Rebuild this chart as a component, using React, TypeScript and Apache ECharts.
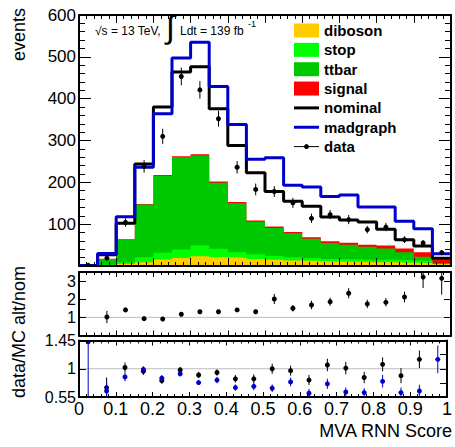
import React, { useEffect, useRef } from "react";
import * as echarts from "echarts";

// ---------- data ----------
const binEdges = [0, 0.05, 0.1, 0.15, 0.2, 0.25, 0.3, 0.35, 0.4, 0.45, 0.5, 0.55, 0.6, 0.65, 0.7, 0.75, 0.8, 0.85, 0.9, 0.95, 1];

const diboson = [0.3, 1.5, 5, 9, 15.5, 19, 23.5, 21, 20, 17, 15, 13, 12, 11, 10, 9, 9, 8, 7, 4];
const stop = [0.3, 1.5, 4, 12, 16, 20.5, 25.5, 20, 13, 11, 9, 8, 7, 6, 6, 6, 6, 6, 5.5, 1];
const ttbar = [0.6, 14, 54, 126, 184.5, 220.5, 215, 158, 117, 78, 67, 57, 46, 38, 35, 31, 27, 19, 9.5, 1.5];
const signal = [0.2, 0.5, 1, 1, 1.5, 2.5, 3, 3, 3, 3, 3.5, 3, 4, 4, 4.5, 5, 7, 9, 11, 9.5];
const nominal = [1, 27, 102, 244, 380, 464, 476, 376, 288, 223, 178, 155, 143, 117, 110, 105, 88, 63, 48, 18.5];
const madgraph = [1, 30, 118, 236, 364, 497, 535, 429, 338, 255, 259, 193, 189, 166, 170, 141, 141, 107, 89, 29];
const dataVals = [1.5, 19, 104, 238, 310, 453, 421, 352, 236, 183, 178, 151, 114, 123, 111, 87, 93, 63, 55, 32];
const dataErr = [1.5, 4.5, 10, 15, 18, 21, 21, 19, 15, 14, 13, 12, 11, 11, 11, 9, 10, 8, 7, 6];

const altNom = [null, 1.02, 1.41, 0.93, 0.91, 1.17, 1.31, 1.31, 1.41, 1.31, 2.01, 1.5, 1.68, 1.86, 2.33, 1.74, 1.83, 2.12, 3.22, 3.15];
const altNomErr = [null, 0.34, 0.13, 0.05, 0.05, 0.05, 0.05, 0.06, 0.08, 0.1, 0.28, 0.18, 0.23, 0.22, 0.28, 0.23, 0.23, 0.29, 0.6, 0.9];

const dataNom = [null, 0.7, 1.02, 0.96, 0.81, 0.98, 0.9, 0.94, 0.84, 0.84, 1.0, 0.97, 0.82, 1.06, 1.01, 0.86, 1.07, 0.89, 1.15, null];
const dataNomErr = [null, 0.16, 0.08, 0.06, 0.05, 0.05, 0.05, 0.05, 0.06, 0.07, 0.08, 0.08, 0.08, 0.1, 0.1, 0.09, 0.11, 0.12, 0.14, null];
const dataMad = [1.43, 0.645, 0.87, 0.99, 0.85, 0.92, 0.78, 0.82, 0.7, 0.72, 0.69, 0.79, 0.61, 0.76, 0.63, 0.62, 0.8, 0.62, 0.645, 1.15];
const dataMadErr = [0.9, 0.14, 0.07, 0.05, 0.05, 0.04, 0.04, 0.05, 0.05, 0.06, 0.06, 0.07, 0.07, 0.08, 0.07, 0.07, 0.1, 0.08, 0.1, 0.22];

const legendLabels = ["diboson", "stop", "ttbar", "signal", "nominal", "madgraph", "data"];

// ---------- styles ----------
const FONT = "'Liberation Sans', Arial, Helvetica, sans-serif";
const C = {
  diboson: "#ffcc00",
  stop: "#00ff00",
  ttbar: "#00c800",
  signal: "#ff0000",
  nominal: "#000000",
  madgraph: "#0000cc",
  data: "#000000",
};
const RATIO_OFFSET = 0.55; // bottom panel axis starts at 0.55

const centers = binEdges.slice(0, -1).map((e, i) => (e + binEdges[i + 1]) / 2);
const stepData = (vals: number[]) => [
  ...vals.map((v, i) => [binEdges[i], v]),
  [binEdges[binEdges.length - 1], vals[vals.length - 1]],
];
const cumulative = (...arrs: number[][]) => arrs[0].map((_, i) => arrs.reduce((s, a) => s + a[i], 0));

function mkX(gridIndex: number, position: string, showLabels: boolean, major: number, minor: number) {
  return {
    type: "value",
    gridIndex,
    position,
    min: 0,
    max: 1,
    interval: 0.1,
    z: 10,
    axisLine: { show: true, onZero: false, lineStyle: { color: "#000", width: 2 } },
    axisTick: { show: true, inside: true, length: major, lineStyle: { color: "#000", width: 1 } },
    minorTick: { show: true, splitNumber: 5, length: minor, lineStyle: { color: "#000", width: 1 } },
    splitLine: { show: false },
    minorSplitLine: { show: false },
    axisLabel: { show: showLabels, margin: 3, color: "#000", fontSize: 18, fontFamily: FONT },
  };
}

function mkY(gridIndex: number, position: string, showLabels: boolean, cfg: any) {
  return {
    type: "value",
    gridIndex,
    position,
    min: cfg.min,
    max: cfg.max,
    interval: cfg.interval,
    z: 10,
    axisLine: { show: true, onZero: false, lineStyle: { color: "#000", width: 2 } },
    axisTick: { show: true, inside: true, length: cfg.major, lineStyle: { color: "#000", width: 1 } },
    minorTick: {
      show: !!cfg.minorSplit,
      splitNumber: cfg.minorSplit || 5,
      length: cfg.minor || 0,
      lineStyle: { color: "#000", width: 1 },
    },
    splitLine: { show: false },
    minorSplitLine: { show: false },
    axisLabel: {
      show: showLabels,
      margin: 3,
      color: "#000",
      fontSize: cfg.fontSize,
      fontFamily: FONT,
      showMinLabel: cfg.showMin,
      showMaxLabel: cfg.showMax,
      formatter: cfg.formatter,
    },
  };
}

function errSeries(axis: number, vals: (number | null)[], errs: (number | null)[], color: string, offset: number, r: number, z: number) {
  const pts: number[][] = [];
  vals.forEach((v, i) => {
    if (v != null) pts.push([centers[i], v - offset, (errs[i] as number) || 0]);
  });
  return {
    type: "custom",
    xAxisIndex: axis * 2,
    yAxisIndex: axis * 2,
    clip: true,
    z,
    silent: true,
    encode: { x: 0, y: 1 },
    data: pts,
    renderItem: (params: any, api: any) => {
      const x = api.value(0);
      const y = api.value(1);
      const e = api.value(2);
      const p = api.coord([x, y]);
      const lo = api.coord([x, y - e]);
      const hi = api.coord([x, y + e]);
      return {
        type: "group",
        children: [
          { type: "line", shape: { x1: p[0], y1: lo[1], x2: p[0], y2: hi[1] }, style: { stroke: color, lineWidth: 1 } },
          { type: "circle", shape: { cx: p[0], cy: p[1], r }, style: { fill: color } },
        ],
      };
    },
  };
}

function buildOption() {
  const topDib = cumulative(diboson);
  const topStop = cumulative(diboson, stop);
  const topTt = cumulative(diboson, stop, ttbar);
  const topSig = cumulative(diboson, stop, ttbar, signal);

  const area = (name: string, vals: number[], color: string) => ({
    name,
    type: "line",
    xAxisIndex: 0,
    yAxisIndex: 0,
    step: "end",
    symbol: "none",
    silent: true,
    z: 2,
    data: stepData(vals),
    lineStyle: { width: 0, color },
    itemStyle: { color },
    areaStyle: { color, opacity: 1 },
  });
  const hist = (name: string, vals: number[], color: string, z: number) => ({
    name,
    type: "line",
    xAxisIndex: 0,
    yAxisIndex: 0,
    step: "end",
    symbol: "none",
    silent: true,
    z,
    data: stepData(vals),
    lineStyle: { width: 3, color },
    itemStyle: { color },
  });
  const refLine = (axis: number, y: number) => ({
    type: "line",
    xAxisIndex: axis * 2,
    yAxisIndex: axis * 2,
    symbol: "none",
    silent: true,
    z: 1,
    data: [
      [0, y],
      [1, y],
    ],
    lineStyle: { color: "#bdbdbd", width: 1 },
  });

  // legend drawn in ROOT style
  const kinds: Record<string, string> = {
    diboson: "box",
    stop: "box",
    ttbar: "box",
    signal: "box",
    nominal: "line",
    madgraph: "line",
    data: "marker",
  };
  const LEG_X = 294;
  const LEG_Y0 = 30.5;
  const LEG_DY = 19.35;
  const legendEls: any[] = [];
  legendLabels.forEach((label, i) => {
    const cy = LEG_Y0 + i * LEG_DY;
    const color = (C as any)[label];
    const kind = kinds[label];
    if (kind === "box") {
      legendEls.push({ type: "rect", z: 100, shape: { x: LEG_X, y: cy - 7, width: 25, height: 14 }, style: { fill: color } });
    } else if (kind === "line") {
      legendEls.push({ type: "line", z: 100, shape: { x1: LEG_X, y1: cy, x2: LEG_X + 25, y2: cy }, style: { stroke: color, lineWidth: 3 } });
    } else {
      legendEls.push({ type: "line", z: 100, shape: { x1: LEG_X, y1: cy, x2: LEG_X + 25, y2: cy }, style: { stroke: color, lineWidth: 1 } });
      legendEls.push({ type: "circle", z: 100, shape: { cx: LEG_X + 12.5, cy, r: 2.5 }, style: { fill: color } });
    }
    legendEls.push({
      type: "text",
      z: 100,
      x: LEG_X + 30,
      y: cy,
      style: { text: label, fontSize: 15, fontWeight: "bold", fontFamily: FONT, fill: "#000", align: "left", verticalAlign: "middle" },
    });
  });

  const textEl = (text: string, x: number, y: number, size: number, extra: any = {}) => ({
    type: "text",
    z: 100,
    x,
    y,
    ...extra,
    style: { text, fontSize: size, fontFamily: FONT, fill: "#000", align: "left", verticalAlign: "middle", ...(extra.style || {}) },
  });

  return {
    animation: false,
    backgroundColor: "#ffffff",
    textStyle: { fontFamily: FONT },
    grid: [
      { left: 79, top: 15, width: 372, height: 251 },
      { left: 79, top: 272, width: 372, height: 63.5 },
      { left: 79, top: 340.5, width: 372, height: 56.5 },
    ],
    xAxis: [
      mkX(0, "bottom", false, 8, 4),
      mkX(0, "top", false, 8, 4),
      mkX(1, "bottom", false, 5, 3),
      mkX(1, "top", false, 5, 3),
      mkX(2, "bottom", true, 5, 3),
      mkX(2, "top", false, 5, 3),
    ],
    yAxis: [
      mkY(0, "left", true, { min: 0, max: 600, interval: 100, major: 12, minor: 6, minorSplit: 5, fontSize: 17, showMin: false, showMax: true }),
      mkY(0, "right", false, { min: 0, max: 600, interval: 100, major: 12, minor: 6, minorSplit: 5, fontSize: 17 }),
      mkY(1, "left", true, { min: 0, max: 3.5, interval: 1, major: 7, fontSize: 16, showMin: false, showMax: false }),
      mkY(1, "right", false, { min: 0, max: 3.5, interval: 1, major: 7, fontSize: 16 }),
      mkY(2, "left", true, {
        min: 0,
        max: 0.9,
        interval: 0.225,
        major: 7,
        fontSize: 16,
        showMin: true,
        showMax: true,
        formatter: (v: number) => String(parseFloat((v + RATIO_OFFSET).toFixed(3))),
      }),
      mkY(2, "right", false, { min: 0, max: 0.9, interval: 0.225, major: 7, fontSize: 16 }),
    ],
    series: [
      area("signal", topSig, C.signal),
      area("ttbar", topTt, C.ttbar),
      area("stop", topStop, C.stop),
      area("diboson", topDib, C.diboson),
      hist("nominal", nominal, C.nominal, 3),
      hist("madgraph", madgraph, C.madgraph, 4),
      errSeries(0, dataVals, dataErr, C.data, 0, 2.5, 5),
      refLine(1, 1),
      errSeries(1, altNom, altNomErr, "#000", 0, 2.5, 5),
      refLine(2, 1 - RATIO_OFFSET),
      errSeries(2, dataNom, dataNomErr, "#000", RATIO_OFFSET, 2.5, 5),
      errSeries(2, dataMad, dataMadErr, C.madgraph, RATIO_OFFSET, 2.5, 6),
    ],
    graphic: [
      ...legendEls,
      textEl("√s = 13 TeV,", 95, 31, 12),
      textEl("∫", 166, 27, 32),
      textEl("Ldt = 139 fb", 180, 31, 12),
      textEl("-1", 248, 24, 9),
      textEl("events", 19, 8, 18, { rotation: Math.PI / 2, style: { align: "right" } }),
      textEl("data/MC alt/nom", 19, 332, 18, { rotation: Math.PI / 2, style: { align: "center" } }),
      textEl("MVA RNN Score", 452, 431, 18, { style: { align: "right" } }),
    ],
  };
}

export default function App() {
  const ref = useRef<HTMLDivElement>(null);
  useEffect(() => {
    if (!ref.current) return;
    const chart = echarts.init(ref.current, null, { renderer: "svg" });
    chart.setOption(buildOption() as any);
    return () => chart.dispose();
  }, []);
  return (
    <div
      ref={ref}
      style={{ position: "absolute", left: 0, top: 0, width: 455, height: 447, background: "#fff" }}
    />
  );
}
